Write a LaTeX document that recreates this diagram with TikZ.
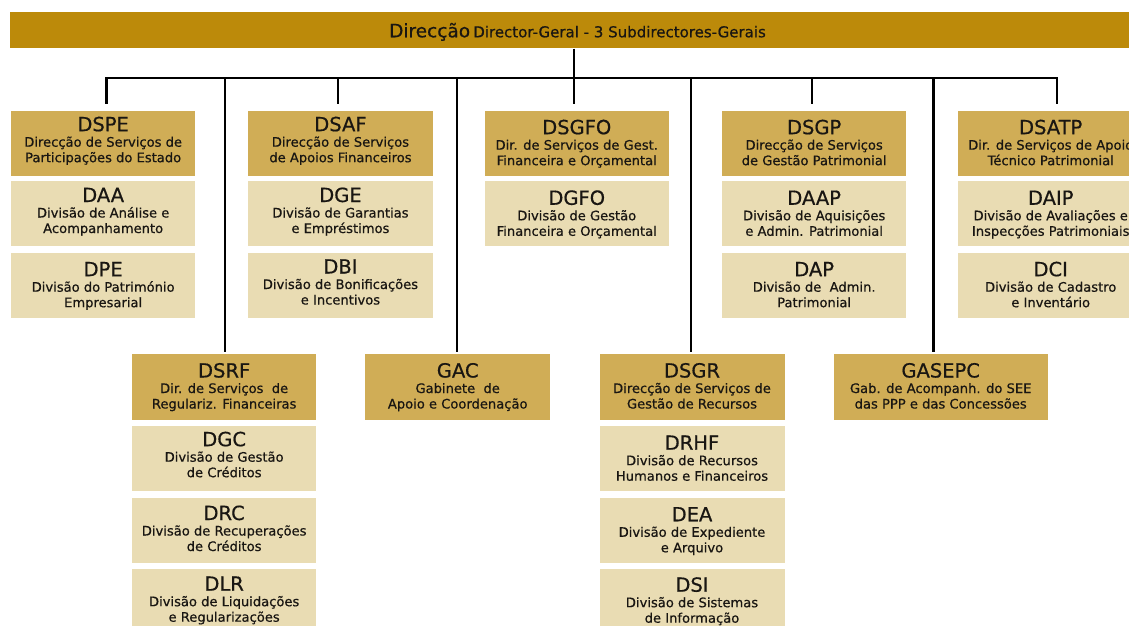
\documentclass[tikz,border=0pt]{standalone}
\usepackage{fontspec}
\setmainfont[FakeBold=0.6]{DejaVu Sans}
\definecolor{barc}{RGB}{188,138,10}
\definecolor{hdrc}{RGB}{208,173,86}
\definecolor{litc}{RGB}{233,220,179}
\definecolor{txtc}{RGB}{25,22,18}
\tikzset{
  hdrbox/.style={rectangle, fill=hdrc, inner sep=0, minimum height=65.3pt},
  litbox/.style={rectangle, fill=litc, inner sep=0, minimum height=65pt},
  ttl/.style={inner sep=0, text=txtc, font=\fontsize{19.5}{21}\selectfont},
  dsc/.style={inner sep=0, text=txtc, font=\fontsize{13.1}{15}\selectfont},
  conn/.style={draw=black, line width=2.4pt}
}
\newcommand\obox[9]{%
  \node[#5, minimum width=#4pt, anchor=north west] (#1) at (#2,#3) {};
  \node[ttl, anchor=base] (#1-t) at ([yshift={-(#6)*1pt}]#1.north) {#7};
  \node[dsc, anchor=base] (#1-a) at ([yshift={-(#6+15.5)*1pt}]#1.north) {#8};
  \node[dsc, anchor=base] (#1-b) at ([yshift={-(#6+31)*1pt}]#1.north) {#9};
}
\begin{document}
\begin{tikzpicture}[x=1pt,y=-1pt]
\useasboundingbox (0,0) rectangle (1129,626);
\clip (0,0) rectangle (1129,626);
% top bar
\node[rectangle, fill=barc, inner sep=0, minimum width=1125pt, minimum height=36pt, anchor=north west] (dir) at (10,12.3) {};
\node[inner sep=0, anchor=base, text=txtc] (dir-t) at (577.5,37.3)
  {{\fontsize{18.5}{20}\selectfont Direcção} {\fontsize{15}{17}\selectfont Director-Geral - 3 Subdirectores-Gerais}};
% top row
\obox{dspe}{10.7}{110.7}{184.5}{hdrbox}{20.5}{DSPE}{Direcção de Serviços de}{Participações do Estado}
\obox{daa}{10.7}{181}{184.5}{litbox}{21}{DAA}{Divisão de Análise e}{Acompanhamento}
\obox{dpe}{10.7}{252.7}{184.5}{litbox}{23.5}{DPE}{Divisão do Património}{Empresarial}
\obox{dsaf}{248}{110.7}{184.5}{hdrbox}{20.5}{DSAF}{Direcção de Serviços}{de Apoios Financeiros}
\obox{dge}{248}{181}{184.5}{litbox}{21}{DGE}{Divisão de Garantias}{e Empréstimos}
\obox{dbi}{248}{252.7}{184.5}{litbox}{20.8}{DBI}{Divisão de Bonificações}{e Incentivos}
\obox{dsgfo}{484.3}{110.7}{184.5}{hdrbox}{23.5}{DSGFO}{Dir. de Serviços de Gest.}{Financeira e Orçamental}
\obox{dgfo}{484.3}{181}{184.5}{litbox}{23.8}{DGFO}{Divisão de Gestão}{Financeira e Orçamental}
\obox{dsgp}{721.7}{110.7}{184.5}{hdrbox}{23.5}{DSGP}{Direcção de Serviços}{de Gestão Patrimonial}
\obox{daap}{721.7}{181}{184.5}{litbox}{23.8}{DAAP}{Divisão de Aquisições}{e Admin. Patrimonial}
\obox{dap}{721.7}{252.7}{184.5}{litbox}{23.5}{DAP}{Divisão de\ \ Admin.}{Patrimonial}
\obox{dsatp}{958}{110.7}{185}{hdrbox}{23.5}{DSATP}{Dir. de Serviços de Apoio}{Técnico Patrimonial}
\obox{daip}{958}{181}{185}{litbox}{23.8}{DAIP}{Divisão de Avaliações e}{Inspecções Patrimoniais}
\obox{dci}{958}{252.7}{185}{litbox}{23.5}{DCI}{Divisão de Cadastro}{e Inventário}
% bottom row
\obox{dsrf}{131.7}{354}{184.5}{hdrbox}{23.5}{DSRF}{Dir. de Serviços\ \ de}{Regulariz. Financeiras}
\obox{dgc}{131.7}{425.7}{184.5}{litbox}{20.5}{DGC}{Divisão de Gestão}{de Créditos}
\obox{drc}{131.7}{497.3}{184.5}{litbox}{22.7}{DRC}{Divisão de Recuperações}{de Créditos}
\obox{dlr}{131.7}{568.3}{184.5}{litbox}{22.4}{DLR}{Divisão de Liquidações}{e Regularizações}
\obox{gac}{365}{354}{185}{hdrbox}{23.5}{GAC}{Gabinete\ \ de}{Apoio e Coordenação}
\obox{dsgr}{599.3}{354}{185}{hdrbox}{23.5}{DSGR}{Direcção de Serviços de}{Gestão de Recursos}
\obox{drhf}{599.3}{425.7}{185}{litbox}{24}{DRHF}{Divisão de Recursos}{Humanos e Financeiros}
\obox{dea}{599.3}{497.3}{185}{litbox}{24}{DEA}{Divisão de Expediente}{e Arquivo}
\obox{dsi}{599.3}{568.3}{185}{litbox}{23.4}{DSI}{Divisão de Sistemas}{de Informação}
\obox{gasepc}{833.3}{354}{214.4}{hdrbox}{23.5}{GASEPC}{Gab. de Acompanh. do SEE}{das PPP e das Concessões}
% connectors
\coordinate (hub) at (574,78);
\coordinate (busl) at (106.5,78);
\coordinate (busr) at (1057,78);
\coordinate (j1) at (106.5,78);
\coordinate (j2) at (225,78);
\coordinate (j3) at (338,78);
\coordinate (j4) at (457,78);
\coordinate (j5) at (574,78);
\coordinate (j6) at (691,78);
\coordinate (j7) at (812,78);
\coordinate (j8) at (933.5,78);
\coordinate (j9) at (1057,78);
\draw[conn] (dir.south -| hub) -- (hub);
\draw[conn, line cap=rect] (busl) -- (busr);
\draw[conn] (j1) -- ([yshift=6.7pt]j1 |- dspe.north);
\draw[conn] (j3) -- ([yshift=6.7pt]j3 |- dsaf.north);
\draw[conn] (j5) -- ([yshift=6.7pt]j5 |- dsgfo.north);
\draw[conn] (j7) -- ([yshift=6.7pt]j7 |- dsgp.north);
\draw[conn] (j9) -- ([yshift=6.7pt]j9 |- dsatp.north);
\draw[conn] (j2) -- ([yshift=2pt]j2 |- dsrf.north);
\draw[conn] (j4) -- ([yshift=2pt]j4 |- gac.north);
\draw[conn] (j6) -- ([yshift=2pt]j6 |- dsgr.north);
\draw[conn] (j8) -- ([yshift=2pt]j8 |- gasepc.north);
\end{tikzpicture}
\end{document}
